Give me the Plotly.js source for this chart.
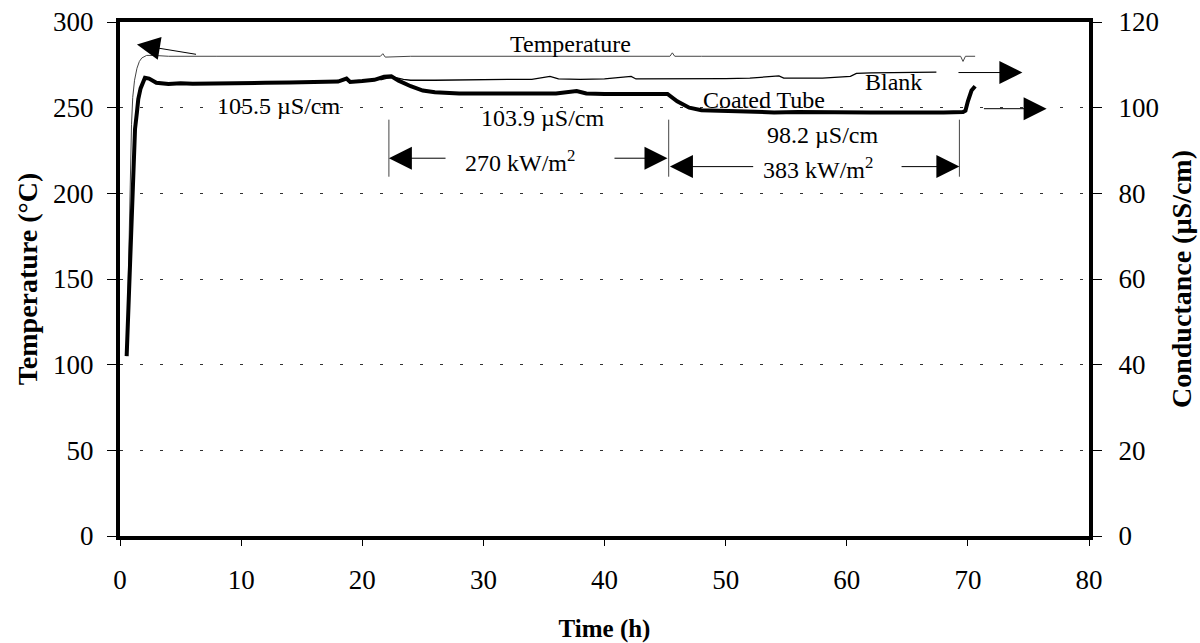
<!DOCTYPE html>
<html>
<head>
<meta charset="utf-8">
<script src="https://cdn.plot.ly/plotly-3.0.1.min.js"></script>
<style>html,body{margin:0;padding:0;background:#fff;}#chart{width:1200px;height:643px;}</style>
</head>
<body>
<div id="chart"></div>
<script>
// Temperature (°C), left axis
var tempTime = [0.55, 0.62, 0.7, 0.78, 0.85, 0.95, 1.05, 1.2, 1.4, 1.6, 1.8, 2.2, 2.8, 4, 8, 12, 16, 20, 21.5, 21.7, 21.9, 24, 28, 32, 36, 40, 44, 45.4, 45.6, 45.8, 48, 52, 56, 60, 64, 68, 69.4, 69.6, 69.8, 70.6];
var tempValues = [105, 130, 160, 195, 218, 240, 256, 266, 273, 277, 279, 280.5, 280.5, 280, 280, 280, 280, 280, 280, 281.5, 279.5, 280, 280, 280, 280, 280, 280, 280, 282, 280, 280, 280, 280, 280, 280, 280, 280, 277, 280, 280];

// Coated tube conductance (µS/cm), right axis
var coatedTime = [0.55, 0.6, 0.69, 0.83, 0.97, 1.1, 1.24, 1.4, 1.51, 1.7, 1.92, 2.06, 2.4, 3, 4, 5, 6, 8, 10, 12, 14, 16, 18, 18.7, 19, 20, 21, 21.8, 22.4, 23, 24, 25, 26, 28, 30, 32, 34, 36, 37.7, 38.5, 40, 42, 44, 45.2, 46, 47, 48, 50, 52, 54, 56, 58, 60, 62, 64, 66, 68, 69.6, 69.8, 70, 70.3, 70.6];
var coatedValues = [42, 46, 56, 67, 80, 89, 95, 99, 102, 104.5, 106, 107, 106.8, 105.8, 105.5, 105.7, 105.6, 105.6, 105.7, 105.8, 105.9, 106, 106.1, 106.8, 106, 106.2, 106.5, 107.2, 107.3, 106.3, 105, 104, 103.6, 103.3, 103.3, 103.2, 103.3, 103.3, 103.9, 103.3, 103.2, 103.2, 103.2, 103.2, 101.5, 100, 99.4, 99.2, 99, 98.9, 99, 98.9, 99, 98.9, 98.9, 98.8, 98.9, 99, 99.3, 101.5, 104, 105];

// Blank conductance (µS/cm), right axis
var blankTime = [21.5, 22.5, 23.4, 24, 26, 28, 30, 32, 34, 35.5, 36.2, 38, 40, 42.2, 42.6, 44, 46, 48, 50, 52, 54.4, 54.8, 56, 58, 60.3, 60.8, 62, 64, 66, 67.4];
var blankValues = [106.5, 107.2, 106.6, 106.4, 106.4, 106.5, 106.5, 106.6, 106.6, 107.3, 106.7, 106.6, 106.7, 107.3, 106.7, 106.7, 106.8, 106.8, 106.8, 106.9, 107.4, 106.9, 106.9, 106.9, 107.3, 108, 108.1, 108.2, 108.2, 108.3];

var xTicks = [0, 10, 20, 30, 40, 50, 60, 70, 80];
var yTicks = [0, 50, 100, 150, 200, 250, 300];
var y2Ticks = [0, 20, 40, 60, 80, 100, 120];

var FONT = '"Liberation Serif", "Times New Roman", serif';

var traces = [
  {x: tempTime, y: tempValues, type: 'scatter', mode: 'lines', yaxis: 'y',
   line: {color: '#444', width: 1}, hoverinfo: 'skip'},
  {x: blankTime, y: blankValues, type: 'scatter', mode: 'lines', yaxis: 'y2',
   line: {color: '#000', width: 1.3}, hoverinfo: 'skip'},
  {x: coatedTime, y: coatedValues, type: 'scatter', mode: 'lines', yaxis: 'y2',
   line: {color: '#000', width: 4}, hoverinfo: 'skip'}
];

function arrow(tipX, tipY, tailX, tailY) {
  return {x: tipX, y: tipY, ax: tailX, ay: tailY, xref: 'x', yref: 'y', axref: 'x', ayref: 'y',
          text: '', showarrow: true, arrowhead: 2, arrowsize: 4.6, arrowwidth: 1, arrowcolor: '#000'};
}
function label(x, y, txt) {
  return {x: x, y: y, xref: 'x', yref: 'y', text: txt, showarrow: false,
          font: {family: FONT, size: 24, color: '#000'}};
}

var annotations = [
  label(37.2, 287, 'Temperature'),
  label(63.9, 265, 'Blank'),
  label(53.2, 254.7, 'Coated Tube'),
  label(13.1, 251, '105.5 µS/cm'),
  label(34.9, 244, '103.9 µS/cm'),
  label(58.0, 234, '98.2 µS/cm'),
  label(33.0, 219, '270 kW/m<sup>2</sup>'),
  label(57.6, 214.5, '383 kW/m<sup>2</sup>'),
  arrow(1.4, 286.8, 6.4, 281),
  arrow(74.5, 270.5, 69.1, 270.5),
  arrow(76.5, 249.4, 71.2, 249.4),
  arrow(22.2, 220.5, 27.0, 220.5),
  arrow(45.2, 220.5, 40.7, 220.5),
  arrow(45.4, 215.6, 52.4, 215.6),
  arrow(69.3, 215.6, 64.4, 215.6)
];

var shapes = [22.2, 45.3, 69.3].map(function (t) {
  return {type: 'line', xref: 'x', yref: 'y', x0: t, x1: t, y0: 209.7, y1: 243,
          line: {color: '#444', width: 1}};
});

var layout = {
  width: 1200, height: 643,
  margin: {l: 120, r: 111, t: 22, b: 107},
  paper_bgcolor: '#fff', plot_bgcolor: '#fff',
  showlegend: false,
  font: {family: FONT, color: '#000', size: 27},
  xaxis: {
    range: [0, 80], tickvals: xTicks, ticktext: xTicks.map(String),
    showgrid: false, zeroline: false,
    showline: true, linecolor: '#000', linewidth: 4, mirror: true,
    ticks: 'outside', ticklen: 6, tickcolor: '#000', tickwidth: 1,
    ticklabelstandoff: 11,
    tickfont: {family: FONT, size: 27, color: '#000'},
    title: {text: '<b>Time (h)</b>', font: {family: FONT, size: 25, color: '#000'}, standoff: 29}
  },
  yaxis: {
    range: [0, 300], tickvals: yTicks, ticktext: yTicks.map(String),
    showgrid: true, gridcolor: '#333', gridwidth: 1, griddash: '3px,17px',
    zeroline: false,
    showline: true, linecolor: '#000', linewidth: 4,
    ticks: 'outside', ticklen: 9, tickcolor: '#000', tickwidth: 1,
    ticklabelstandoff: 8,
    tickfont: {family: FONT, size: 27, color: '#000'},
    title: {text: '<b>Temperature (°C)</b>', font: {family: FONT, size: 28, color: '#000'}, standoff: 8}
  },
  yaxis2: {
    range: [0, 120], tickvals: y2Ticks, ticktext: y2Ticks.map(String),
    overlaying: 'y', side: 'right', anchor: 'x',
    showgrid: false, zeroline: false,
    showline: true, linecolor: '#000', linewidth: 4,
    ticks: 'outside', ticklen: 9, tickcolor: '#000', tickwidth: 1,
    ticklabelstandoff: 11,
    tickfont: {family: FONT, size: 27, color: '#000'},
    title: {text: '<b>Conductance (µS/cm)</b>', font: {family: FONT, size: 28, color: '#000'}, standoff: 14}
  },
  annotations: annotations,
  shapes: shapes
};

Plotly.newPlot('chart', traces, layout, {staticPlot: true, displayModeBar: false});
</script>
</body>
</html>
